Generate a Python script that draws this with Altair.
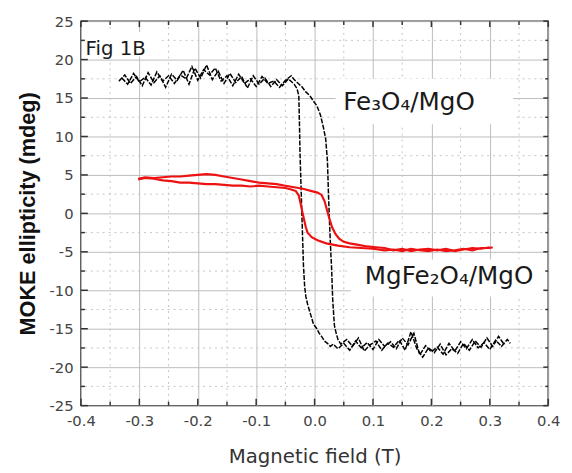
import altair as alt
import pandas as pd

# ---------------- axis ticks ----------------
x_major = [-0.4, -0.3, -0.2, -0.1, 0.0, 0.1, 0.2, 0.3, 0.4]
x_minor = [-0.35, -0.25, -0.15, -0.05, 0.05, 0.15, 0.25, 0.35]
y_major = [-25, -20, -15, -10, -5, 0, 5, 10, 15, 20, 25]
y_minor = [-22.5, -17.5, -12.5, -7.5, -2.5, 2.5, 7.5, 12.5, 17.5, 22.5]

# ---------------- Fe3O4/MgO (black) ----------------
fe_a_x = [-0.335, -0.325, -0.315, -0.305, -0.295, -0.285, -0.275, -0.265, -0.255, -0.245,
          -0.235, -0.225, -0.215, -0.205, -0.195, -0.185, -0.175, -0.165, -0.155, -0.145,
          -0.135, -0.125, -0.115, -0.105, -0.095, -0.085, -0.075, -0.065, -0.055, -0.045,
          -0.035,
          -0.030, -0.027, -0.026, -0.025, -0.023, -0.021, -0.019, -0.017, -0.015, -0.012,
          -0.009, -0.005, -0.002, 0.003, 0.008, 0.012, 0.017, 0.022, 0.027, 0.032,
          0.040, 0.050, 0.060, 0.070, 0.080, 0.090, 0.100, 0.110, 0.120, 0.130,
          0.140, 0.150, 0.160, 0.170, 0.180, 0.190, 0.200, 0.210, 0.220, 0.230,
          0.240, 0.250, 0.260, 0.270, 0.280, 0.290, 0.300, 0.310, 0.320, 0.330, 0.335]
fe_a_y = [17.2, 18.0, 16.9, 17.8, 16.6, 18.3, 17.0, 17.9, 16.4, 18.1,
          17.3, 18.6, 16.8, 18.9, 17.6, 19.3, 17.4, 18.5, 16.9, 18.2,
          17.0, 17.8, 16.3, 17.9, 16.8, 17.6, 16.5, 17.4, 16.6, 17.5,
          16.8,
          16.2, 15.3, 12.0, 8.0, 3.0, -2.0, -6.9, -9.5, -10.8, -11.8,
          -12.6, -13.6, -14.4, -14.9, -15.6, -16.0, -16.6, -16.9, -17.3, -17.0,
          -17.6, -16.9, -17.8, -16.6, -17.5, -16.8, -17.7, -16.4, -17.3, -16.7,
          -17.6, -16.2, -17.1, -15.6, -18.4, -17.2, -18.0, -17.4, -18.3, -16.9,
          -17.9, -16.7, -17.6, -16.4, -17.5, -16.8, -17.7, -16.5, -17.3, -16.4, -16.9]

fe_b_x = [-0.330, -0.320, -0.310, -0.300, -0.290, -0.280, -0.270, -0.260, -0.250, -0.240,
          -0.230, -0.220, -0.210, -0.200, -0.190, -0.180, -0.170, -0.160, -0.150, -0.140,
          -0.130, -0.120, -0.110, -0.100, -0.090, -0.080, -0.070, -0.060, -0.050, -0.040,
          -0.035, -0.028, -0.022, -0.015, -0.008, -0.002, 0.004, 0.010, 0.015, 0.019,
          0.022, 0.024, 0.026, 0.028, 0.029, 0.031, 0.033, 0.034, 0.037, 0.040, 0.045,
          0.055, 0.065, 0.075, 0.085, 0.095, 0.105, 0.115, 0.125, 0.135, 0.145,
          0.155, 0.165, 0.175, 0.185, 0.195, 0.205, 0.215, 0.225, 0.235, 0.245,
          0.255, 0.265, 0.275, 0.285, 0.295, 0.305, 0.315, 0.325]
fe_b_y = [17.6, 16.8, 18.2, 17.1, 17.7, 16.7, 18.4, 17.2, 17.9, 16.9,
          18.0, 17.5, 19.1, 17.3, 18.7, 18.0, 18.9, 17.2, 17.9, 16.6,
          18.1, 16.9, 17.5, 16.5, 17.8, 16.9, 17.2, 16.4, 17.3, 17.9,
          17.4, 16.9, 16.5, 15.8, 15.3, 14.6, 14.0, 12.8, 11.2, 9.7,
          6.8, 2.0, -2.0, -5.5, -6.9, -11.2, -13.5, -14.6, -15.6, -16.4, -17.0,
          -16.4, -17.3, -16.2, -17.9, -17.1, -16.6, -17.8, -16.9, -17.4, -16.5,
          -17.8, -15.4, -17.6, -18.7, -17.5, -18.1, -17.0, -18.4, -17.6, -18.2,
          -16.9, -17.8, -16.6, -17.4, -16.2, -17.3, -16.0, -17.1]

# ---------------- MgFe2O4/MgO (red) ----------------
mg_a_x = [-0.302, -0.290, -0.275, -0.260, -0.245, -0.230, -0.215, -0.200, -0.185, -0.170,
          -0.155, -0.140, -0.125, -0.110, -0.095, -0.080, -0.065, -0.050, -0.040, -0.032,
          -0.027, -0.024, -0.021, -0.018, -0.015, -0.012, -0.005, 0.005, 0.020, 0.040,
          0.060, 0.080, 0.100, 0.120, 0.135, 0.150, 0.165, 0.180, 0.195, 0.210,
          0.225, 0.240, 0.255, 0.270, 0.285, 0.300, 0.305]
mg_a_y = [4.4, 4.6, 4.5, 4.3, 4.2, 4.0, 4.0, 3.9, 3.8, 3.8,
          3.7, 3.6, 3.6, 3.5, 3.6, 3.5, 3.4, 3.3, 3.1, 2.9,
          2.3, 1.3, 0.2, -0.8, -1.8, -2.5, -3.1, -3.5, -3.9, -4.2,
          -4.4, -4.5, -4.6, -4.8, -4.7, -4.9, -4.6, -4.8, -4.9, -4.7,
          -4.9, -4.8, -4.6, -4.8, -4.5, -4.5, -4.4]

mg_b_x = [-0.302, -0.290, -0.275, -0.260, -0.245, -0.230, -0.215, -0.200, -0.185, -0.170,
          -0.155, -0.140, -0.125, -0.110, -0.095, -0.080, -0.065, -0.050, -0.035, -0.020,
          -0.005, 0.005, 0.012, 0.017, 0.021, 0.025, 0.030, 0.036, 0.042, 0.050,
          0.060, 0.075, 0.090, 0.105, 0.120, 0.135, 0.150, 0.165, 0.180, 0.195,
          0.210, 0.225, 0.240, 0.255, 0.270, 0.285, 0.300]
mg_b_y = [4.5, 4.7, 4.6, 4.7, 4.8, 4.8, 4.9, 5.0, 5.1, 5.0,
          4.8, 4.6, 4.4, 4.2, 4.0, 3.9, 3.8, 3.6, 3.4, 3.2,
          2.9, 2.7, 2.4, 1.6, 0.5, -0.6, -1.8, -2.7, -3.3, -3.7,
          -3.9, -4.1, -4.3, -4.4, -4.5, -4.8, -4.6, -4.9, -4.7, -4.6,
          -4.8, -4.6, -4.9, -4.7, -4.5, -4.6, -4.4]

# ---------------- annotations ----------------
label_text = ["Fig 1B", "Fe\u2083O\u2084/MgO", "MgFe\u2082O\u2084/MgO"]
label_x = [-0.392, 0.049, 0.086]
label_y = [20.6, 13.5, -9.2]
label_size = [20, 25, 25]
box_x1 = [-0.395, 0.036, 0.062]
box_x2 = [-0.268, 0.340, 0.393]
box_y1 = [23.6, 17.5, -6.0]
box_y2 = [20.4, 11.6, -10.8]


def trace(xs_, ys_, series, tr):
    return pd.DataFrame({"x": xs_, "y": ys_, "series": series, "trace": tr,
                         "order": list(range(len(xs_)))})


lines = pd.concat([
    trace(fe_a_x, fe_a_y, "Fe3O4", "fa"),
    trace(fe_b_x, fe_b_y, "Fe3O4", "fb"),
    trace(mg_a_x, mg_a_y, "MgFe2O4", "ma"),
    trace(mg_b_x, mg_b_y, "MgFe2O4", "mb"),
], ignore_index=True)

labels = pd.DataFrame({"t": label_text, "x": label_x, "y": label_y, "s": label_size})
boxes = pd.DataFrame({"x1": box_x1, "x2": box_x2, "y1": box_y1, "y2": box_y2})
xmaj = pd.DataFrame({"v": x_major})
xmin = pd.DataFrame({"v": x_minor})
ymaj = pd.DataFrame({"v": y_major})
ymin = pd.DataFrame({"v": y_minor})

W, H = 474, 390
xs = alt.Scale(domain=[-0.4, 0.4], nice=False, zero=False)
ys = alt.Scale(domain=[-25, 25], nice=False, zero=False)

FRAME = "#333333"
GRID = "#bcbcbc"
MINOR = "#c4c4c4"

x_axis = alt.Axis(
    values=x_major, grid=True, gridColor=GRID, gridWidth=1, ticks=False, domain=False,
    labelExpr="datum.value < 0 ? '-' + format(-datum.value, '.1f') : format(datum.value, '.1f')",
    labelFont="DejaVu Sans", labelFontSize=15, labelColor="#444444", labelPadding=8,
    labelFlush=False, title="Magnetic field (T)", titleFont="DejaVu Sans",
    titleFontSize=20, titleFontWeight="normal", titleColor="#333333", titlePadding=19)
y_axis = alt.Axis(
    values=y_major, grid=True, gridColor=GRID, gridWidth=1, ticks=False, domain=False,
    labelExpr="datum.value < 0 ? '-' + format(-datum.value, 'd') : format(datum.value, 'd')",
    labelFont="DejaVu Sans", labelFontSize=15, labelColor="#444444", labelPadding=8,
    labelFlush=False, title="MOKE ellipticity (mdeg)", titleFont="Liberation Sans",
    titleFontSize=22, titleFontWeight="bold", titleColor="#111111", titlePadding=10)


def X(field):
    return alt.X(field, scale=xs, axis=x_axis)


def Y(field):
    return alt.Y(field, scale=ys, axis=y_axis)


minor_v = alt.Chart(xmin).mark_rule(color=MINOR, strokeWidth=1, strokeDash=[2, 4]).encode(
    x=X("v:Q"))
minor_h = alt.Chart(ymin).mark_rule(color=MINOR, strokeWidth=1, strokeDash=[2, 4]).encode(
    y=Y("v:Q"))

rects = alt.Chart(boxes).mark_rect(color="white").encode(
    x=X("x1:Q"), x2="x2:Q", y=Y("y1:Q"), y2="y2:Q")

base_lines = alt.Chart(lines)
black = base_lines.transform_filter(alt.datum.series == "Fe3O4").mark_line(
    color="#000000", strokeWidth=1.5, strokeDash=[5, 1.5]).encode(
    x=X("x:Q"), y=Y("y:Q"), detail="trace:N", order="order:Q")
red = base_lines.transform_filter(alt.datum.series == "MgFe2O4").mark_line(
    color="#ee1111", strokeWidth=2.2).encode(
    x=X("x:Q"), y=Y("y:Q"), detail="trace:N", order="order:Q")

texts = alt.Chart(labels).mark_text(
    align="left", baseline="alphabetic", font="DejaVu Sans", color="#1a1a1a").encode(
    x=X("x:Q"), y=Y("y:Q"),
    text="t:N", size=alt.Size("s:Q", scale=None, legend=None))


def xticks(df, y0, y1):
    return alt.Chart(df).mark_rule(color=FRAME, strokeWidth=1.5).encode(
        x=X("v:Q"), y=alt.value(y0), y2=alt.value(y1))


def yticks(df, x0, x1):
    return alt.Chart(df).mark_rule(color=FRAME, strokeWidth=1.5).encode(
        y=Y("v:Q"), x=alt.value(x0), x2=alt.value(x1))


ticks = [
    xticks(xmaj, H, H - 7), xticks(xmin, H, H - 4),
    xticks(xmaj, 0, 6), xticks(xmin, 0, 4),
    yticks(ymaj, 0, 7), yticks(ymin, 0, 4),
    yticks(ymaj, W, W - 5), yticks(ymin, W, W - 3),
]

chart = alt.layer(minor_v, minor_h, rects, black, red, texts, *ticks).properties(
    width=W, height=H,
    autosize=alt.AutoSizeParams(type="none"),
    padding={"left": 74, "top": 10, "right": 16, "bottom": 64},
).configure_view(stroke=FRAME, strokeWidth=1.5)

chart.save("out.html", embed_options={"renderer": "svg", "actions": False})
